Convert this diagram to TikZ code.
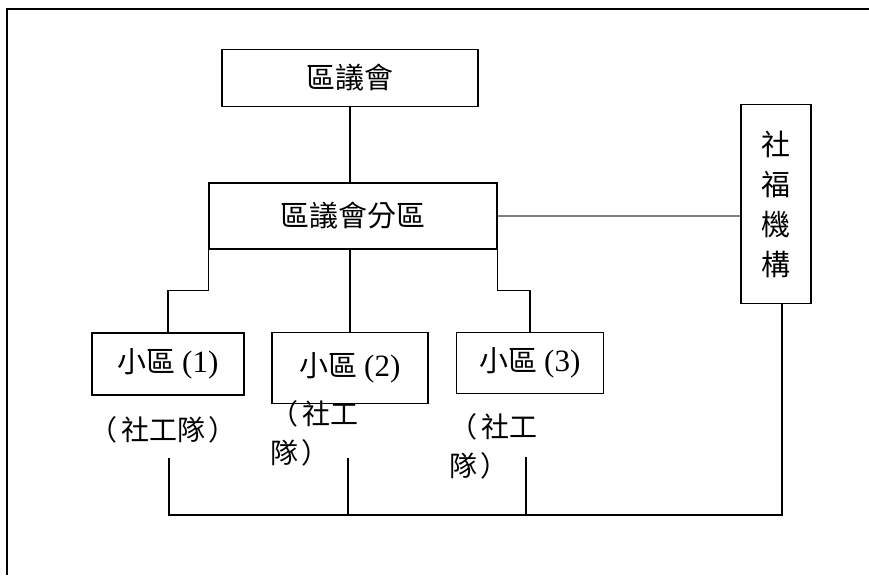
\documentclass[tikz,border=0pt]{standalone}
\usepackage{fontspec}
\setmainfont{Liberation Serif}
\newfontfamily\cjk{Noto Sans CJK TC}
\newfontfamily\cjkpar{Noto Sans CJK JP}
\newcommand{\lpar}{{\cjkpar （}\kern4pt}
\newcommand{\rpar}{\kern3pt{\cjkpar ）}}
\newcommand{\num}[1]{{\rmfamily\fontsize{31}{36}\selectfont (#1)}}
\usetikzlibrary{positioning, calc}

\begin{document}
\begin{tikzpicture}[x=1pt, y=-1pt,
    unitbox/.style={draw, line width=1.5pt, inner sep=0pt, font=\cjk\fontsize{29}{40}\selectfont},
    team/.style={inner sep=0pt, anchor=north west, align=left, font=\cjk\fontsize{28}{39}\selectfont},
    link/.style={line width=1.1pt}]
    \useasboundingbox (0,0) rectangle (869,575);
    % outer frame (only top and left are visible)
    \draw[line width=1.4pt] (7,575) -- (7,9) -- (869,9);

    \node[unitbox, minimum width=256, minimum height=57] (council) at (350,78) {區議會};
    \node[unitbox, minimum width=288, minimum height=66] (branch) at (353,216) {區議會分區};
    \node[unitbox, minimum width=70, minimum height=199, align=center] (welfare) at (776,204) {社\\福\\機\\構};
    \node[unitbox, minimum width=152, minimum height=62] (d1) at (168,364) {小區 \num{1}};
    \node[unitbox, minimum width=156, minimum height=71] (d2) at (350,368) {小區 \num{2}};
    \node[unitbox, minimum width=147, minimum height=61] (d3) at (530,363) {小區 \num{3}};

    \node[team, anchor=center] (t1) at (163,430) {\lpar 社工隊\rpar};
    \node[team] (t2) at (270,400) {\lpar 社工\\隊\rpar};
    \node[team] (t3) at (449,413) {\lpar 社工\\隊\rpar};

    % bus along the bottom
    \coordinate (top1) at (169,458);
    \coordinate (top2) at (348,458);
    \coordinate (top3) at (526,457);
    \coordinate (bus1) at (169,515);
    \coordinate (bus2) at (348,515);
    \coordinate (bus3) at (526,515);
    \coordinate (bus4) at (782,515);

    \draw[link] (council.south) -- (council.south |- branch.north);
    \draw[link, gray] (branch.east) -- (branch.east -| welfare.west);
    \draw[link] (branch.south west) -- ++(0,41) -| (d1.north);
    \draw[link] (d2.north) -- (d2.north |- branch.south);
    \draw[link] (branch.south east) -- ++(0,41) -| (d3.north);

    \draw[link] (top1) -- (bus1) -- (bus4) -- (bus4 |- welfare.south);
    \draw[link] (top2) -- (bus2);
    \draw[link] (top3) -- (bus3);
\end{tikzpicture}
\end{document}
